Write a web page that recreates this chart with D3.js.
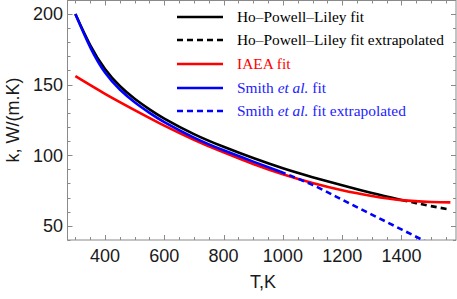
<!DOCTYPE html>
<html><head><meta charset="utf-8">
<script src="https://cdn.jsdelivr.net/npm/d3@7"></script>
<style>body{margin:0;background:#fff}svg{display:block}</style>
</head><body>
<svg id="c" width="457" height="299"></svg>
<script>
// Data
const hplT   = [300,350,400,450,500,550,600,700,800,900,1000,1100,1200,1300,1400];
const hplK   = [200,178,161,149,140,132.5,126,115,106,98,90.8,84.5,78.7,73.2,68.3];
const hplExtT = [1400,1450,1500,1560];
const hplExtK = [68.3,66.1,64,61.7];
const iaeaT  = [300,400,500,600,700,800,900,1000,1100,1200,1300,1400,1500,1565];
const iaeaK  = [156,143.5,132,121,111,102,93.8,86.5,80.3,75.2,71.2,68.2,66.9,66.6];
const smithT = [300,350,400,450,500,550,600,700,800,900,990];
const smithK = [200,176.5,158.5,146.5,137.5,130,123.5,112.5,103.5,95.5,88.5];
const smithExtT = [990,1100,1200,1300,1400,1500];
const smithExtK = [88.5,79,68.5,58,47.5,37];
const xTicks = [400,600,800,1000,1200,1400];
const yTicks = [50,100,150,200];
const legendLabels = ["Ho–Powell–Liley fit","Ho–Powell–Liley fit extrapolated","IAEA fit","Smith et al. fit","Smith et al. fit extrapolated"];

const svg = d3.select("#c");
const L=67.5, R=456, T=0.5, B=240;
const x = d3.scaleLinear().domain([273.5,1584]).range([L,R]);
const y = d3.scaleLinear().domain([40,209.9]).range([B,0]);

svg.append("defs").append("clipPath").attr("id","clip")
  .append("rect").attr("x",L).attr("y",T).attr("width",R-L).attr("height",B-T);

// Frame
const frameCol = "#8a8a8a";
svg.append("rect").attr("x",L).attr("y",T).attr("width",R-L).attr("height",B-T)
  .attr("fill","none").attr("stroke",frameCol).attr("stroke-width",1);

// ticks
const xMinor = d3.range(300,1584,50);
const yMinor = d3.range(40,210,10);
const tg = svg.append("g").attr("stroke",frameCol).attr("stroke-width",1);
xMinor.forEach(v=>{
  const major = xTicks.includes(v);
  const len = major?5:3;
  const px = Math.round(x(v))+0.5;
  tg.append("line").attr("x1",px).attr("x2",px).attr("y1",B).attr("y2",B-len);
  tg.append("line").attr("x1",px).attr("x2",px).attr("y1",T).attr("y2",T+len);
});
yMinor.forEach(v=>{
  const major = yTicks.includes(v);
  const len = major?5:3;
  const py = Math.round(y(v))+0.5;
  tg.append("line").attr("y1",py).attr("y2",py).attr("x1",L).attr("x2",L+len);
  tg.append("line").attr("y1",py).attr("y2",py).attr("x1",R).attr("x2",R-len);
});

// Tick labels
const lblFont = "Liberation Sans, Arial, sans-serif";
svg.append("g").selectAll("text").data(xTicks).join("text")
  .attr("x",d=>x(d)).attr("y",262).attr("text-anchor","middle")
  .attr("font-family",lblFont).attr("font-size",18).attr("fill","#1a1a1a").text(d=>d);
svg.append("g").selectAll("text").data(yTicks).join("text")
  .attr("x",63).attr("y",d=>y(d)+6.5).attr("text-anchor","end")
  .attr("font-family",lblFont).attr("font-size",18).attr("fill","#1a1a1a").text(d=>d);

// Axis titles
svg.append("text").attr("x",263).attr("y",288).attr("text-anchor","middle")
  .attr("font-family",lblFont).attr("font-size",18).attr("fill","#1a1a1a").text("T,K");
svg.append("text").attr("transform","translate(19,120) rotate(-90)").attr("text-anchor","middle")
  .attr("font-family",lblFont).attr("font-size",18).attr("fill","#1a1a1a").text("k, W/(m.K)");

// Curves
const line = d3.line().x(d=>x(d[0])).y(d=>y(d[1])).curve(d3.curveNatural);
const plot = svg.append("g").attr("clip-path","url(#clip)");
const series = [
  {t:hplT,k:hplK,c:"#000",dash:null},
  {t:hplExtT,k:hplExtK,c:"#000",dash:"6,4"},
  {t:iaeaT,k:iaeaK,c:"#ff0000",dash:null},
  {t:smithT,k:smithK,c:"#0000ff",dash:null},
  {t:smithExtT,k:smithExtK,c:"#0000ff",dash:"6,4"}
];
series.forEach(s=>{
  plot.append("path").datum(s.t.map((t,i)=>[t,s.k[i]]))
    .attr("d",line).attr("fill","none").attr("stroke",s.c).attr("stroke-width",2.6)
    .attr("stroke-dasharray",s.dash);
});

// Legend
const ly = [17,40,64,88,111];
const lcol = ["#000","#000","#ff0000","#2222ff","#2222ff"];
const ldash = [null,"6,4",null,null,"6,4"];
const lg = svg.append("g");
legendLabels.forEach((lab,i)=>{
  lg.append("line").attr("x1",177).attr("x2",223).attr("y1",ly[i]).attr("y2",ly[i])
    .attr("stroke",series[i].c).attr("stroke-width",2.6).attr("stroke-dasharray",ldash[i]);
  const t = lg.append("text").attr("x",237).attr("y",ly[i]+5)
    .attr("font-family","Liberation Serif, Times New Roman, serif").attr("font-size",15.4)
    .attr("fill",lcol[i]);
  if(lab.includes("et al.")){
    const parts = lab.split("et al.");
    t.append("tspan").text(parts[0]);
    t.append("tspan").attr("font-style","italic").text("et al.");
    t.append("tspan").text(parts[1]);
  } else t.text(lab);
});
</script>
</body></html>
